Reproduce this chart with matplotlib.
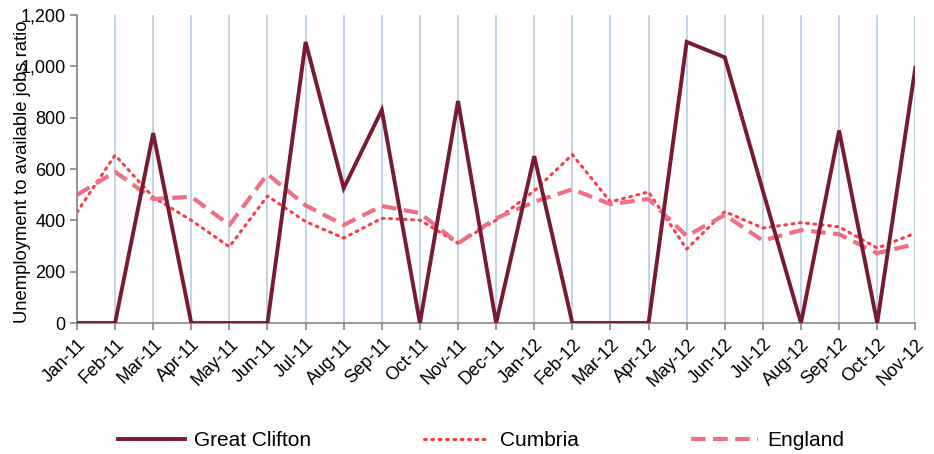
import matplotlib
matplotlib.use("Agg")
import matplotlib.pyplot as plt
import matplotlib.transforms as mtransforms
from matplotlib.ticker import FuncFormatter, MultipleLocator

plt.rcParams.update({
    'font.family': ['Liberation Sans', 'DejaVu Sans'],
    'figure.facecolor': 'white',
    'axes.facecolor': 'white',
})

months = ["Jan-11", "Feb-11", "Mar-11", "Apr-11", "May-11", "Jun-11", "Jul-11", "Aug-11",
          "Sep-11", "Oct-11", "Nov-11", "Dec-11", "Jan-12", "Feb-12", "Mar-12", "Apr-12",
          "May-12", "Jun-12", "Jul-12", "Aug-12", "Sep-12", "Oct-12", "Nov-12"]

great_clifton = [0, 0, 740, 0, 0, 0, 1095, 525, 830, 0, 865, 0, 650, 0, 0, 0,
                 1095, 1035, 515, 0, 750, 0, 995]
cumbria = [432, 654, 490, 400, 297, 495, 395, 331, 408, 401, 311, 401, 515, 656, 472, 511,
           288, 434, 370, 391, 375, 292, 350]
england = [499, 589, 483, 492, 382, 580, 458, 382, 456, 428, 311, 408, 472, 521, 463, 483,
           339, 421, 321, 362, 346, 272, 308]

x = list(range(len(months)))

fig = plt.figure(figsize=(9.34, 4.54), dpi=100)
ax = fig.add_axes([0.0824, 0.2885, 0.8976, 0.6785])

ax.plot(x, great_clifton, color="#771b35", linewidth=2.8, label="Great Clifton",
        solid_joinstyle="miter", zorder=3)
ax.plot(x, cumbria, color="#ff3b3f", linewidth=2.2, linestyle=(0, (0.6, 1.8)),
        dash_capstyle="round", label="Cumbria", zorder=2)
ax.plot(x, england, color="#ef7085", linewidth=3, linestyle=(0, (3.5, 1.8)),
        label="England", zorder=2)

ax.set_xlim(0, len(months) - 1)
ax.set_ylim(0, 1200)
ax.yaxis.set_major_locator(MultipleLocator(200))
ax.yaxis.set_major_formatter(FuncFormatter(lambda v, _p: f"{v:,.0f}"))

ax.set_xticks(x)
ax.set_xticklabels(months, rotation=45, ha="right", rotation_mode="anchor")
# shift rotated labels a little right/down, like the spreadsheet layout
shift = mtransforms.ScaledTranslation(9 / 100, -7 / 100, fig.dpi_scale_trans)
for lbl in ax.get_xticklabels():
    lbl.set_transform(lbl.get_transform() + shift)

ax.xaxis.grid(True, color="#b9cde5", linewidth=1.2)
ax.set_axisbelow(True)

for side in ("top", "right"):
    ax.spines[side].set_visible(False)
for side in ("left", "bottom"):
    ax.spines[side].set_color("#868686")
    ax.spines[side].set_linewidth(1.2)
ax.tick_params(axis="both", colors="#868686", labelcolor="black", labelsize=13,
               direction="out", length=5, width=1.2)
ax.tick_params(axis="x", pad=4)
ax.tick_params(axis="y", pad=3)

ax.set_ylabel("Unemployment to available jobs ratio", fontsize=13.3)
ax.yaxis.set_label_coords(-0.055, 0.49)

fig.legend(loc="center", bbox_to_anchor=(0.515, 0.03), ncol=3, frameon=False,
           fontsize=15, handlelength=3.2, columnspacing=5.4, handletextpad=0.45)

fig.savefig("out.png", dpi=100)
